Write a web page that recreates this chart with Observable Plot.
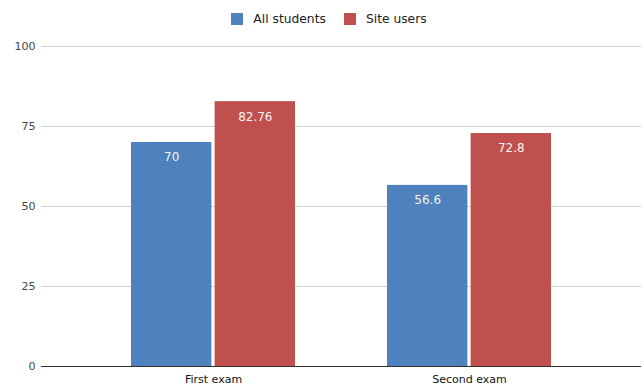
<!DOCTYPE html>
<html><head><meta charset="utf-8">
<script src="https://cdn.jsdelivr.net/npm/d3@7"></script>
<script src="https://cdn.jsdelivr.net/npm/@observablehq/plot@0.6"></script>
<style>
body{margin:0;background:#fff;font-family:"DejaVu Sans",sans-serif}
#legend{height:36px;display:flex;justify-content:center;align-items:center;gap:18px;font-size:12.3px;color:#222;padding-left:14px;padding-top:2px;box-sizing:border-box}
#legend span.item{display:flex;align-items:center}
.sw{display:inline-block;width:12px;height:12px;margin-right:10px}
</style></head>
<body><div id="legend"></div><div id="chart"></div>
<script>
const groups = ["First exam", "Second exam"];
const series = ["All students", "Site users"];
const allStudents = [70, 56.6];
const siteUsers = [82.76, 72.8];
const colors = ["#4F81BD", "#C0504D"];
const yTicks = [0, 25, 50, 75, 100];

const values = [allStudents, siteUsers];
const data = [];
groups.forEach((g, i) => series.forEach((s, j) => data.push({group: g, series: s, idx: j, value: values[j][i]})));

const legend = document.getElementById("legend");
series.forEach((s, j) => {
  const it = document.createElement("span");
  it.className = "item";
  it.innerHTML = `<span class="sw" style="background:${colors[j]}"></span>${s}`;
  legend.appendChild(it);
});

const W = 644, ML = 41, MR = 3;
const PI = 0.36, PO = 0.349;
const xOpts = {type: "band", domain: groups, range: [ML, W - MR], paddingInner: PI, paddingOuter: PO};
const bw = Plot.scale({x: xOpts}).bandwidth;
const gap = 3;
const half = bw / 2 + gap / 2;

const marks = [
  Plot.ruleY(yTicks.slice(1), {stroke: "#d0d0d0"})
];
series.forEach((s, j) => {
  const sub = data.filter(d => d.idx === j);
  marks.push(Plot.barY(sub, {
    x: "group", y: "value", fill: "series",
    insetLeft: j === 0 ? 0 : half, insetRight: j === 0 ? half : 0
  }));
  marks.push(Plot.text(sub, {
    x: "group", y: "value", text: d => String(d.value),
    dx: (j === 0 ? -1 : 1) * (bw / 4 + gap / 4), dy: 15, fill: "#f4f4f4", fontSize: 12
  }));
});
marks.push(Plot.ruleY([0], {stroke: "#333"}));
marks.push(Plot.axisY(yTicks, {tickSize: 0, tickPadding: 6, fill: "#444", fontSize: 11, label: null}));
marks.push(Plot.axisX({tickSize: 0, tickPadding: 9, fill: "#111", fontSize: 11, label: null}));

const chart = Plot.plot({
  width: W,
  height: 351,
  marginLeft: ML,
  marginRight: MR,
  marginTop: 10,
  marginBottom: 21,
  style: {fontFamily: "DejaVu Sans, sans-serif", fontSize: "11px", color: "#333"},
  x: {domain: groups, paddingInner: PI, paddingOuter: PO, label: null},
  y: {domain: [0, 100], label: null},
  color: {domain: series, range: colors},
  marks
});
document.getElementById("chart").appendChild(chart);
</script></body></html>
